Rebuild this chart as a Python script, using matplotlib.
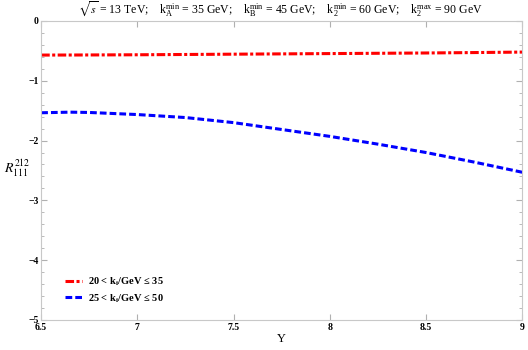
import matplotlib
matplotlib.use('Agg')
import matplotlib.pyplot as plt
import numpy as np
from matplotlib.ticker import MultipleLocator

plt.rcParams['font.family'] = ['Liberation Serif', 'DejaVu Serif']
plt.rcParams['mathtext.fontset'] = 'stix'

# Y values and ratio curves
Y = [6.5, 6.65, 6.75, 7.0, 7.25, 7.5, 7.75, 8.0, 8.25, 8.5, 8.75, 9.0]
R_red = [-0.57, -0.569, -0.568, -0.565, -0.56, -0.555, -0.55, -0.545, -0.54, -0.535, -0.528, -0.52]
R_blue = [-1.535, -1.525, -1.53, -1.565, -1.615, -1.70, -1.815, -1.93, -2.06, -2.20, -2.36, -2.53]

labels = ['20 < k$_\\mathregular{i}$/GeV \u2264 35', '25 < k$_\\mathregular{i}$/GeV \u2264 50']

fig = plt.figure(figsize=(5.28, 3.5), dpi=100)
ax = fig.add_axes([0.078, 0.086, 0.911, 0.854])

ax.plot(Y, R_red, color='red', lw=2.2, dashes=(2.8, 0.8, 1.0, 0.8), label=labels[0])
ax.plot(Y, R_blue, color='blue', lw=2.2, dashes=(2.2, 1.0), label=labels[1])

ax.set_xlim(6.5, 9)
ax.set_ylim(-5, 0)
ax.yaxis.set_minor_locator(MultipleLocator(0.2))
ax.set_xticks([6.5, 7, 7.5, 8, 8.5, 9])
ax.set_xticklabels(['6.5', '7', '7.5', '8', '8.5', '9'])
ax.set_yticks([0, -1, -2, -3, -4, -5])
ax.set_yticklabels(['0', '\u22121', '\u22122', '\u22123', '\u22124', '\u22125'])

for s in ax.spines.values():
    s.set_color('#c8c8c8')
ax.tick_params(which='both', direction='in', top=True, right=True, color='#b0b0b0',
               labelsize=7, pad=2)
ax.tick_params(which='major', length=4)
ax.tick_params(which='minor', length=2.5)
for t in ax.get_xticklabels() + ax.get_yticklabels():
    t.set_fontweight('bold')

ax.set_xlabel('Y', fontsize=9, labelpad=1)
ax.set_ylabel(r'$R^{212}_{111}$', fontsize=10, rotation=0, labelpad=10)
ax.yaxis.set_label_coords(-0.05, 0.47)

fig.text(0.53, 0.975,
         r'$\sqrt{s}$ = 13 TeV;    k$_\mathregular{A}^\mathregular{min}$ = 35 GeV;    '
         r'k$_\mathregular{B}^\mathregular{min}$ = 45 GeV;    k$_\mathregular{2}^\mathregular{min}$ = 60 GeV;    '
         r'k$_\mathregular{2}^\mathregular{max}$ = 90 GeV',
         ha='center', va='center', fontsize=8.5)

leg = ax.legend(loc='lower left', bbox_to_anchor=(0.03, 0.02), frameon=False,
                fontsize=7.5, handlelength=1.6, handletextpad=0.6, labelspacing=0.35)
for t in leg.get_texts():
    t.set_fontweight('bold')

plt.savefig('out.png', dpi=100)
